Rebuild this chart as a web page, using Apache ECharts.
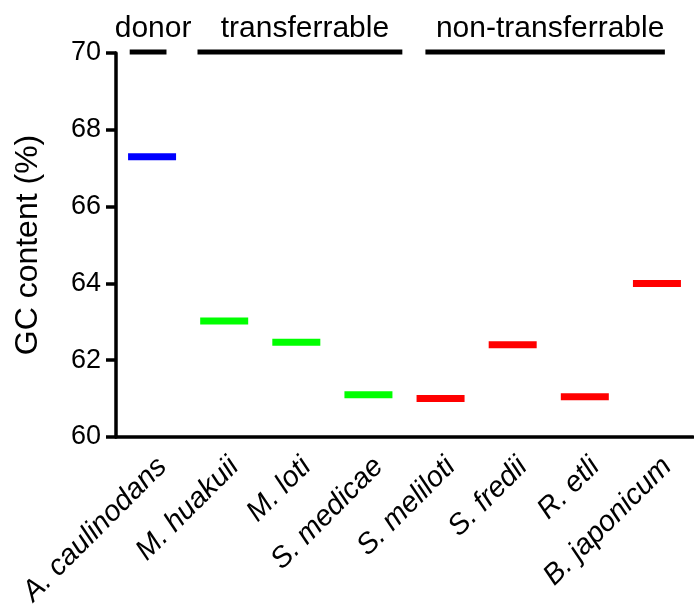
<!DOCTYPE html>
<html>
<head>
<meta charset="utf-8">
<script src="https://cdn.jsdelivr.net/npm/echarts@6/dist/echarts.min.js"></script>
<style>
  html, body { margin: 0; padding: 0; background: #fff; }
  #chart { width: 694px; height: 605px; }
</style>
</head>
<body>
<div id="chart"></div>
<script>
const species = ["A. caulinodans", "M. huakuii", "M. loti", "S. medicae", "S. meliloti", "S. fredii", "R. etli", "B. japonicum"];
const gcContent = [67.3, 63.02, 62.47, 61.1, 61.0, 62.4, 61.05, 64.0];
const groupOf = ["donor", "transferrable", "transferrable", "transferrable", "non-transferrable", "non-transferrable", "non-transferrable", "non-transferrable"];
const groupColors = { donor: "#0000ff", transferrable: "#00ff00", "non-transferrable": "#ff0000" };
// group brackets on top: [name, from (category index), to (category index)]
const groups = [
  ["donor", -0.31, 0.2],
  ["transferrable", 0.63, 3.47],
  ["non-transferrable", 3.79, 7.11],
];
const yTicks = [60, 62, 64, 66, 68, 70];

const font = "Liberation Sans, Arial, sans-serif";
const chart = echarts.init(document.getElementById("chart"));

chart.setOption({
  animation: false,
  grid: { left: 116, right: 1, top: 53, bottom: 168, containLabel: false, outerBoundsMode: "none" },
  xAxis: [
    {
      type: "category",
      data: species,
      axisLine: { lineStyle: { color: "#000", width: 3.5 } },
      axisTick: { alignWithLabel: true, length: 10, lineStyle: { color: "#000", width: 3.5 } },
      axisLabel: {
        rotate: 45,
        margin: 15,
        color: "#000",
        fontSize: 29,
        fontStyle: "italic",
        fontFamily: font,
        verticalAlign: "top",
        interval: 0,
      },
    },
    { type: "value", min: -0.5, max: 7.5, show: false },
  ],
  yAxis: {
    type: "value",
    min: yTicks[0],
    max: yTicks[yTicks.length - 1],
    interval: 2,
    name: "GC content (%)",
    nameLocation: "middle",
    nameRotate: 90,
    nameGap: 72,
    nameTextStyle: { color: "#000", fontSize: 32, fontFamily: font },
    splitLine: { show: false },
    axisLine: { show: true, onZero: false, lineStyle: { color: "#000", width: 3.5 } },
    axisTick: { show: true, length: 10, lineStyle: { color: "#000", width: 3.5 } },
    axisLabel: { margin: 15, color: "#000", fontSize: 27, fontFamily: font },
  },
  series: [
    {
      type: "scatter",
      symbol: "rect",
      symbolSize: [48, 7],
      data: gcContent.map((v, i) => ({
        value: [species[i], v],
        itemStyle: { color: groupColors[groupOf[i]], opacity: 1 },
      })),
    },
    {
      type: "custom",
      xAxisIndex: 1,
      clip: false,
      silent: true,
      data: groups.map((g) => [g[1], g[2]]),
      renderItem: (params, api) => {
        const g = groups[params.dataIndex];
        const p1 = api.coord([api.value(0), 70]);
        const p2 = api.coord([api.value(1), 70]);
        return {
          type: "group",
          children: [
            {
              type: "line",
              shape: { x1: p1[0], y1: p1[1] - 1, x2: p2[0], y2: p2[1] - 1 },
              style: { stroke: "#000", lineWidth: 5 },
            },
            {
              type: "text",
              x: (p1[0] + p2[0]) / 2 + 5,
              y: p1[1] - 24,
              style: {
                text: g[0],
                fill: "#000",
                font: "30px " + font,
                align: "center",
                verticalAlign: "middle",
              },
            },
          ],
        };
      },
    },
  ],
});
</script>
</body>
</html>
